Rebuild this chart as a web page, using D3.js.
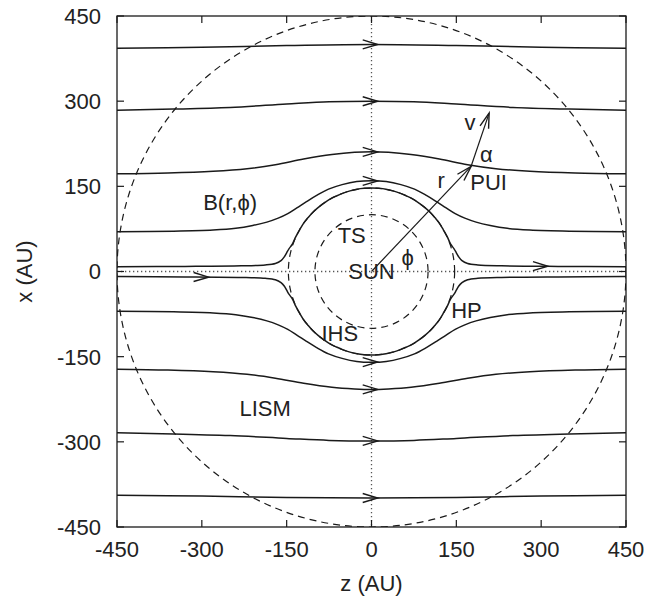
<!DOCTYPE html>
<html>
<head>
<meta charset="utf-8">
<script src="https://cdn.jsdelivr.net/npm/d3@7"></script>
<style>
body { margin: 0; background: #fff; }
svg { display: block; font-family: "Liberation Sans", Arial, sans-serif; }
</style>
</head>
<body>
<svg id="chart"></svg>
<script>
// axis ticks (AU)
const tickValues = [-450, -300, -150, 0, 150, 300, 450];

// dashed shells: termination shock, heliopause, outer boundary (AU)
const shellRadii = [100, 147, 450];

// field lines, [z, x] in AU
const north1 = [[-450, 393], [-300, 395], [-150, 398], [0, 400], [150, 398], [300, 395], [450, 393]];
const north2 = [[-450, 284], [-350, 286], [-250, 289], [-150, 295], [-75, 299], [0, 300], [75, 299], [150, 295], [250, 289], [350, 286], [450, 284]];
const north3 = [[-450, 172], [-360, 173.5], [-280, 176.5], [-220, 181], [-170, 188], [-120, 198], [-70, 206], [-30, 210], [0, 211],
  [30, 210], [70, 206], [120, 198], [170, 188], [220, 181], [280, 176.5], [360, 173.5], [450, 172]];
const north4 = [[-450, 70], [-350, 71], [-280, 73], [-240, 76], [-210, 81], [-185, 87], [-165, 94], [-148, 102], [-132, 112], [-115, 123],
  [-97, 134], [-76, 145], [-52, 153], [-26, 158.5], [0, 160], [26, 158.5], [52, 153], [76, 145], [97, 134], [115, 123], [132, 112],
  [148, 102], [165, 94], [185, 87], [210, 81], [240, 76], [280, 73], [350, 71], [450, 70]];
const north5 = [[-450, 8.5], [-330, 9], [-230, 10], [-188, 11.5], [-170, 14], [-160, 19], [-154, 26], [-150, 33], [-146, 40], [-140, 48],
  [-134, 61], [-127, 73.5], [-119, 86.5], [-112.5, 94.5], [-104, 104], [-94.5, 112.5], [-84, 120.5], [-73.5, 127.5], [-62, 133],
  [-50, 138], [-38, 142], [-25.5, 145], [-13, 146.5], [0, 147], [13, 146.5], [25.5, 145], [38, 142], [50, 138], [62, 133],
  [73.5, 127.5], [84, 120.5], [94.5, 112.5], [104, 104], [112.5, 94.5], [119, 86.5], [127, 73.5], [134, 61], [140, 48], [146, 40],
  [150, 33], [154, 26], [160, 19], [170, 14], [188, 11.5], [230, 10], [330, 9], [450, 8.5]];
const south5 = [[-450, -9], [-330, -9.5], [-230, -10.5], [-188, -12], [-170, -14.5], [-160, -19.5], [-154, -26], [-150, -33], [-146, -40],
  [-140, -48], [-134, -61], [-127, -73.5], [-119, -86.5], [-112.5, -94.5], [-104, -104], [-94.5, -112.5], [-84, -120.5],
  [-73.5, -127.5], [-62, -133], [-50, -138], [-38, -142], [-25.5, -145], [-13, -146.5], [0, -147], [13, -146.5], [25.5, -145],
  [38, -142], [50, -138], [62, -133], [73.5, -127.5], [84, -120.5], [94.5, -112.5], [104, -104], [112.5, -94.5], [119, -86.5],
  [127, -73.5], [134, -61], [140, -48], [146, -40], [150, -33], [154, -26], [160, -19.5], [170, -14.5], [188, -12], [230, -10.5],
  [330, -9.5], [450, -9]];
const south4 = [[-450, -70], [-350, -71], [-280, -73], [-240, -76], [-210, -81], [-185, -87], [-165, -94], [-148, -102], [-132, -112],
  [-115, -123], [-97, -134], [-76, -145], [-52, -153], [-26, -158.5], [0, -160], [26, -158.5], [52, -153], [76, -145], [97, -134],
  [115, -123], [132, -112], [148, -102], [165, -94], [185, -87], [210, -81], [240, -76], [280, -73], [350, -71], [450, -70]];
const south3 = [[-450, -172], [-360, -173.5], [-280, -176.5], [-220, -181], [-170, -188], [-120, -197], [-70, -204], [-30, -207], [0, -208],
  [30, -207], [70, -204], [120, -197], [170, -188], [220, -181], [280, -176.5], [360, -173.5], [450, -172]];
const south2 = [[-450, -284], [-350, -286], [-250, -289], [-150, -294], [-75, -297.5], [0, -298.5], [75, -297.5], [150, -294], [250, -289], [350, -286], [450, -284]];
const south1 = [[-450, -394], [-300, -395.5], [-150, -398], [0, -399], [150, -398], [300, -395.5], [450, -394]];

const fieldLines = [north1, north2, north3, north4, north5, south5, south4, south3, south2, south1];
// z of the arrow tip on each field line
const arrowTipZ = [11, 11, 11, 11, 312, -288, 11, 11, 11, 11];

// position vector and velocity of the pickup ion
const sunPos = [0, 0];
const puiPos = [176, 185];
const velTip = [208, 279];

// text labels and their [z, x] centres
const labelText = ['B(r,\u03D5)', 'TS', 'SUN', '\u03D5', 'r', 'PUI', 'v', '\u03B1', 'HP', 'IHS', 'LISM'];
const labelPos = [[-250, 122], [-35, 64], [0, 0], [64, 26], [123, 161], [207, 158], [174, 264], [203, 206], [168, -68], [-56, -108], [-188, -240]];

const width = 651, height = 601;
const margin = { left: 117, right: 25, top: 16, bottom: 74 };

const svg = d3.select('#chart').attr('width', width).attr('height', height);

const zScale = d3.scaleLinear().domain([-450, 450]).range([margin.left, width - margin.right]);
const xScale = d3.scaleLinear().domain([-450, 450]).range([height - margin.bottom, margin.top]);

const ink = '#1a1a1a';

const plot = svg.append('g');

// clip to the frame
svg.append('defs').append('clipPath').attr('id', 'frame')
  .append('rect')
  .attr('x', zScale(-450)).attr('y', xScale(450))
  .attr('width', zScale(450) - zScale(-450)).attr('height', xScale(-450) - xScale(450));

const inner = plot.append('g').attr('clip-path', 'url(#frame)');

// dotted axes through the sun
inner.append('line')
  .attr('x1', zScale(0)).attr('x2', zScale(0))
  .attr('y1', xScale(450)).attr('y2', xScale(-450))
  .attr('stroke', '#555').attr('stroke-width', 1.3).attr('stroke-dasharray', '1.3,2.7');
inner.append('line')
  .attr('x1', zScale(-450)).attr('x2', zScale(450))
  .attr('y1', xScale(0)).attr('y2', xScale(0))
  .attr('stroke', '#555').attr('stroke-width', 1.3).attr('stroke-dasharray', '1.3,2.7');

// dashed shells
inner.selectAll('.shell')
  .data(shellRadii)
  .enter()
  .append('ellipse')
  .attr('class', 'shell')
  .attr('cx', zScale(0)).attr('cy', xScale(0))
  .attr('rx', d => zScale(d) - zScale(0))
  .attr('ry', d => xScale(0) - xScale(d))
  .attr('fill', 'none')
  .attr('stroke', ink).attr('stroke-width', 1.2)
  .attr('stroke-dasharray', '7,5');

// field lines
const line = d3.line()
  .x(d => zScale(d[0]))
  .y(d => xScale(d[1]))
  .curve(d3.curveCatmullRom.alpha(0.5));

inner.selectAll('.field')
  .data(fieldLines)
  .enter()
  .append('path')
  .attr('class', 'field')
  .attr('d', line)
  .attr('fill', 'none')
  .attr('stroke', ink)
  .attr('stroke-width', 1.5);

// open arrow head, tip at (px, py), pointing along angle a (radians, screen)
function arrowHead(g, px, py, a, len, half) {
  const bx = px - len * Math.cos(a), by = py - len * Math.sin(a);
  const nx = -Math.sin(a) * half, ny = Math.cos(a) * half;
  g.append('path')
    .attr('d', `M${bx + nx},${by + ny}L${px},${py}L${bx - nx},${by - ny}`)
    .attr('fill', 'none')
    .attr('stroke', ink)
    .attr('stroke-width', 1.4);
}

fieldLines.forEach((pts, i) => {
  const interp = d3.scaleLinear().domain(pts.map(p => p[0])).range(pts.map(p => p[1]));
  const z = arrowTipZ[i];
  const px = zScale(z), py = xScale(interp(z));
  const qx = zScale(z - 20), qy = xScale(interp(z - 20));
  arrowHead(inner, px, py, Math.atan2(py - qy, px - qx), 15, 4.5);
});

// position vector r and velocity v
const vecs = [[sunPos, puiPos], [puiPos, velTip]];
vecs.forEach(([a, b]) => {
  const x1 = zScale(a[0]), y1 = xScale(a[1]), x2 = zScale(b[0]), y2 = xScale(b[1]);
  inner.append('line')
    .attr('x1', x1).attr('y1', y1).attr('x2', x2).attr('y2', y2)
    .attr('stroke', ink).attr('stroke-width', 1.2);
  arrowHead(inner, x2, y2, Math.atan2(y2 - y1, x2 - x1), 15, 4.5);
});

// labels
plot.selectAll('.lbl')
  .data(labelText)
  .enter()
  .append('text')
  .attr('class', 'lbl')
  .attr('x', (d, i) => zScale(labelPos[i][0]))
  .attr('y', (d, i) => xScale(labelPos[i][1]))
  .attr('dy', '0.36em')
  .attr('text-anchor', 'middle')
  .style('font-size', '22px')
  .style('fill', '#222')
  .text(d => d);

// frame
plot.append('rect')
  .attr('x', zScale(-450)).attr('y', xScale(450))
  .attr('width', zScale(450) - zScale(-450)).attr('height', xScale(-450) - xScale(450))
  .attr('fill', 'none').attr('stroke', ink).attr('stroke-width', 1.3);

// ticks, mirrored on all four sides
const tickLen = 7;
tickValues.forEach(t => {
  [[xScale(-450), -tickLen], [xScale(450), tickLen]].forEach(([y0, dl]) => {
    plot.append('line')
      .attr('x1', zScale(t)).attr('x2', zScale(t))
      .attr('y1', y0).attr('y2', y0 + dl)
      .attr('stroke', ink).attr('stroke-width', 1.2);
  });
  [[zScale(-450), tickLen], [zScale(450), -tickLen]].forEach(([x0, dl]) => {
    plot.append('line')
      .attr('y1', xScale(t)).attr('y2', xScale(t))
      .attr('x1', x0).attr('x2', x0 + dl)
      .attr('stroke', ink).attr('stroke-width', 1.2);
  });
});

// tick labels
svg.selectAll('.ytl')
  .data(tickValues)
  .enter()
  .append('text')
  .attr('x', 101)
  .attr('y', d => xScale(d))
  .attr('dy', '0.36em')
  .attr('text-anchor', 'end')
  .style('font-size', '22px')
  .style('fill', '#222')
  .text(d => d);

svg.selectAll('.xtl')
  .data(tickValues)
  .enter()
  .append('text')
  .attr('x', d => zScale(d))
  .attr('y', 557)
  .attr('text-anchor', 'middle')
  .style('font-size', '22px')
  .style('fill', '#222')
  .text(d => d);

// axis titles
svg.append('text')
  .attr('x', zScale(0)).attr('y', 591)
  .attr('text-anchor', 'middle')
  .style('font-size', '22px')
  .style('fill', '#222')
  .text('z (AU)');

svg.append('text')
  .attr('transform', `translate(32, ${xScale(0)}) rotate(-90)`)
  .attr('text-anchor', 'middle')
  .style('font-size', '22px')
  .style('fill', '#222')
  .text('x (AU)');
</script>
</body>
</html>
